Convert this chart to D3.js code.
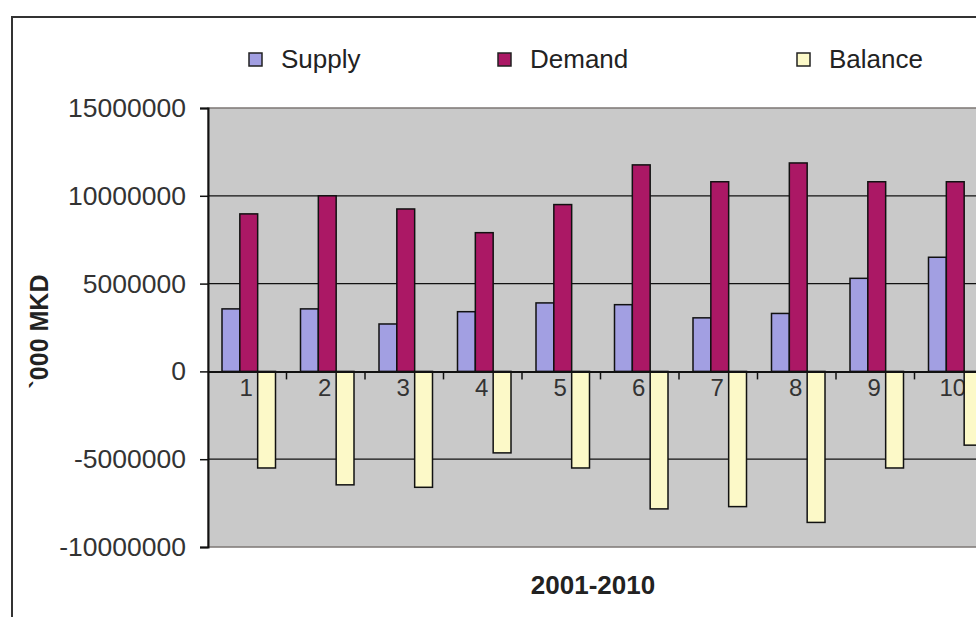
<!DOCTYPE html>
<html lang="en">
<head>
  <meta charset="UTF-8">
  <title>Supply, Demand and Balance 2001-2010</title>
  <script src="https://d3js.org/d3.v7.min.js"></script>
  <style>
    body { margin: 0; background: #fff; }
    svg { display: block; font-family: "Liberation Sans", Arial, sans-serif; }
  </style>
</head>
<body>
<div id="chart"></div>
<script>
// chart values
const categories = ["1", "2", "3", "4", "5", "6", "7", "8", "9", "10"];
const seriesNames = ["Supply", "Demand", "Balance"];
const supply  = [3560000, 3560000, 2700000, 3400000, 3900000, 3800000, 3050000, 3300000, 5300000, 6500000];
const demand  = [8970000, 10000000, 9250000, 7900000, 9500000, 11760000, 10800000, 11870000, 10800000, 10800000];
const balance = [-5500000, -6460000, -6600000, -4640000, -5500000, -7830000, -7700000, -8600000, -5500000, -4200000];
const yTicks = [-10000000, -5000000, 0, 5000000, 10000000, 15000000];

const colors = { Supply: "#a29fe2", Demand: "#ab1865", Balance: "#fcf9c8" };
const values = { Supply: supply, Demand: demand, Balance: balance };

const W = 976, H = 617;
const plot = { left: 208, right: 993, top: 108, bottom: 547 };

const svg = d3.select("#chart").append("svg")
  .attr("width", W)
  .attr("height", H);

// outer frame (runs off the right and bottom of the picture)
svg.append("rect")
  .attr("x", 12).attr("y", 17)
  .attr("width", 1000).attr("height", 640)
  .attr("fill", "#fff")
  .attr("stroke", "#333")
  .attr("stroke-width", 2);

const x = d3.scaleBand()
  .domain(categories)
  .range([plot.left, plot.right])
  .padding(0);

const xInner = d3.scaleBand()
  .domain(seriesNames)
  .range([14, 67.5])
  .padding(0);

const y = d3.scaleLinear()
  .domain([-10000000, 15000000])
  .range([plot.bottom, plot.top]);

// plot area
svg.append("rect")
  .attr("x", plot.left).attr("y", plot.top)
  .attr("width", plot.right - plot.left)
  .attr("height", plot.bottom - plot.top)
  .attr("fill", "#c9c9c9")
  .attr("stroke", "#7c7774")
  .attr("stroke-width", 1.5);

// gridlines
svg.append("g")
  .selectAll("line")
  .data(yTicks.filter(d => d !== 0 && d !== 15000000 && d !== -10000000))
  .join("line")
  .attr("x1", plot.left).attr("x2", plot.right)
  .attr("y1", d => y(d)).attr("y2", d => y(d))
  .attr("stroke", "#111")
  .attr("stroke-width", 1.3);

// category labels
svg.append("g")
  .selectAll("text")
  .data(categories)
  .join("text")
  .attr("x", d => x(d) + x.bandwidth() / 2 - 1)
  .attr("y", y(0) + 16)
  .attr("dy", "0.35em")
  .attr("text-anchor", "middle")
  .attr("font-size", 24)
  .attr("fill", "#333")
  .text(d => d);

// bars
const groups = svg.append("g")
  .selectAll("g")
  .data(categories)
  .join("g")
  .attr("transform", d => `translate(${x(d)},0)`);

groups.selectAll("rect")
  .data((d, i) => seriesNames.map(s => ({ s, v: values[s][i] })))
  .join("rect")
  .attr("x", d => xInner(d.s))
  .attr("width", xInner.bandwidth())
  .attr("y", d => y(Math.max(0, d.v)))
  .attr("height", d => Math.abs(y(d.v) - y(0)))
  .attr("fill", d => colors[d.s])
  .attr("stroke", "#111")
  .attr("stroke-width", 1.5);

// y axis
const yAxis = svg.append("g")
  .attr("transform", `translate(${plot.left},0)`)
  .call(d3.axisLeft(y).tickValues(yTicks).tickSize(8).tickPadding(14).tickFormat(d => String(d)));
yAxis.select(".domain").attr("stroke", "#111").attr("stroke-width", 2);
yAxis.selectAll(".tick line").attr("stroke", "#111").attr("stroke-width", 1.5);
yAxis.selectAll(".tick text")
  .attr("font-size", 26.5)
  .attr("font-family", "Liberation Sans, Arial, sans-serif")
  .attr("fill", "#333");

// zero line with category boundary ticks
const xAxis = svg.append("g")
  .attr("transform", `translate(0,${y(0)})`)
  .call(d3.axisBottom(x).tickSize(0).tickFormat(""));
xAxis.select(".domain").attr("stroke", "#111").attr("stroke-width", 2);

svg.append("g")
  .selectAll("line")
  .data(categories.slice(1))
  .join("line")
  .attr("x1", d => x(d)).attr("x2", d => x(d))
  .attr("y1", y(0)).attr("y2", y(0) + 8)
  .attr("stroke", "#111")
  .attr("stroke-width", 1.5);

// axis titles
svg.append("text")
  .attr("transform", `translate(48,${(plot.top + plot.bottom) / 2 + 4}) rotate(-90)`)
  .attr("text-anchor", "middle")
  .attr("font-size", 25)
  .attr("font-weight", "bold")
  .attr("fill", "#222")
  .text("`000 MKD");

svg.append("text")
  .attr("x", 593)
  .attr("y", 594)
  .attr("text-anchor", "middle")
  .attr("font-size", 26)
  .attr("font-weight", "bold")
  .attr("fill", "#222")
  .text("2001-2010");

// legend
const legendX = [249, 498, 797];
const legend = svg.append("g")
  .selectAll("g")
  .data(seriesNames)
  .join("g")
  .attr("transform", (d, i) => `translate(${legendX[i]},53)`);

legend.append("rect")
  .attr("width", 13).attr("height", 13)
  .attr("fill", d => colors[d])
  .attr("stroke", "#222")
  .attr("stroke-width", 1.5);

legend.append("text")
  .attr("x", 32)
  .attr("y", 15)
  .attr("font-size", 26)
  .attr("fill", "#222")
  .text(d => d);
</script>
</body>
</html>
